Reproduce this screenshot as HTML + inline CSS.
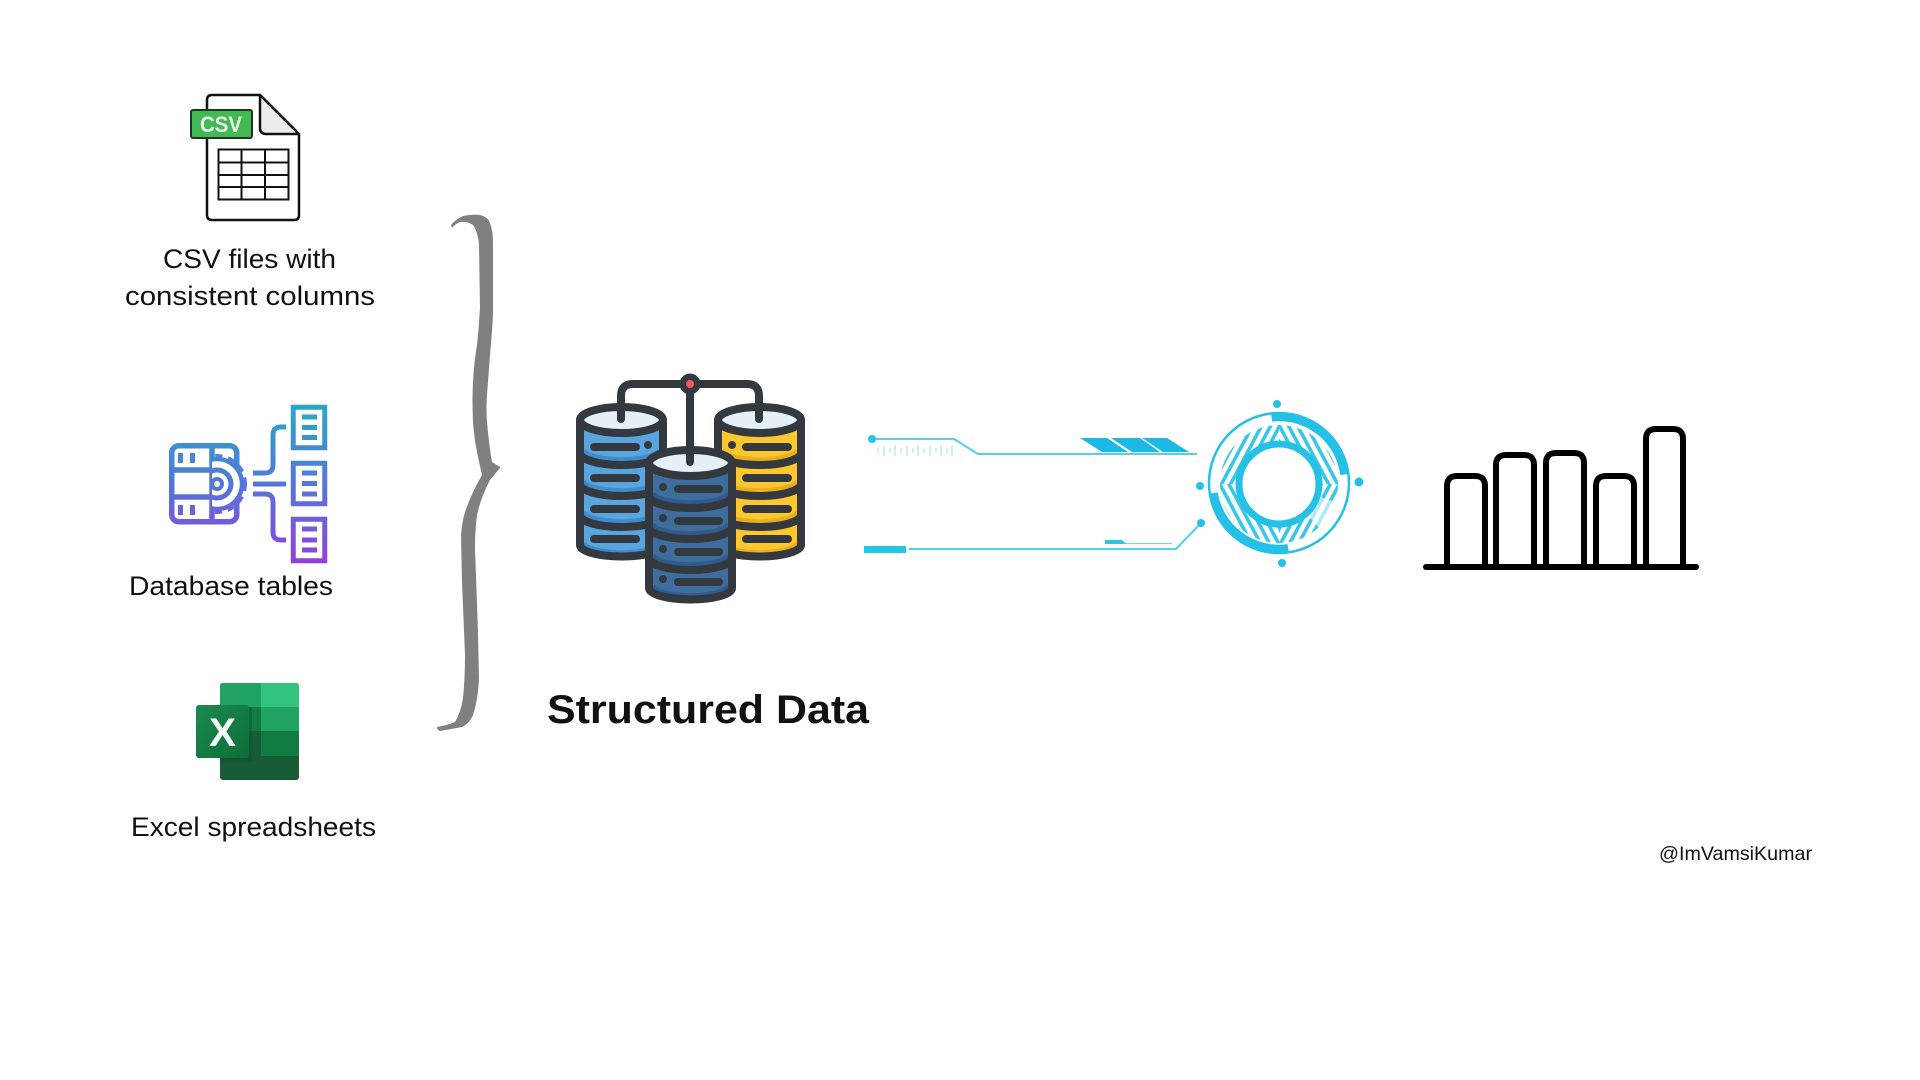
<!DOCTYPE html>
<html lang="en">
<head>
<meta charset="utf-8">
<title>Structured Data</title>
<style>
html,body{margin:0;padding:0;background:#fff;width:1920px;height:1080px;overflow:hidden}
svg{display:block}
text{font-family:"Liberation Sans",sans-serif;fill:#111}
</style>
</head>
<body>
<svg width="1920" height="1080" viewBox="0 0 1920 1080" xmlns="http://www.w3.org/2000/svg">
<defs>
  <linearGradient id="g" gradientUnits="userSpaceOnUse" x1="0" y1="405" x2="0" y2="563">
    <stop offset="0" stop-color="#28a9c8"/><stop offset=".5" stop-color="#5477d8"/><stop offset="1" stop-color="#9140dc"/>
  </linearGradient>
  <linearGradient id="xg" x1="0" y1="0" x2="1" y2="1">
    <stop offset="0" stop-color="#1a8a50"/><stop offset="1" stop-color="#0e6d38"/>
  </linearGradient>
  <pattern id="h1" width="8" height="8" patternUnits="userSpaceOnUse" patternTransform="rotate(28)"><rect width="3.600" height="8" fill="#38c6e8"/></pattern>
  <pattern id="h2" width="8" height="8" patternUnits="userSpaceOnUse" patternTransform="rotate(-28)"><rect width="3.600" height="8" fill="#38c6e8"/></pattern>
  <mask id="ann" maskUnits="userSpaceOnUse" x="1200" y="400" width="160" height="170">
    <circle cx="1279" cy="484" r="59" fill="#fff"/><circle cx="1279" cy="484" r="42" fill="#000"/>
    <path d="M1279 484L1345 505L1335 545Z" fill="#000" opacity=".6"/>
  </mask>
  <clipPath id="gearclip"><rect x="212" y="440" width="40" height="90"/></clipPath>
  <g id="cyl">
    <path d="M4 17V142A41.500 12 0 0 0 87 142V17Z" fill="var(--c)"/>
    <path d="M8 47A38 11 0 0 0 83 47M8 78A38 11 0 0 0 83 78M8 109A38 11 0 0 0 83 109M8 140A38 11 0 0 0 83 140" fill="none" stroke="var(--d)" stroke-width="4"/>
    <ellipse cx="45.500" cy="17" rx="41.500" ry="13" fill="#e4eff8" stroke="#33393f" stroke-width="8"/>
    <path d="M4 17V142A41.500 11.500 0 0 0 87 142V17" fill="none" stroke="#33393f" stroke-width="8"/>
    <path d="M4 50A41.500 12 0 0 0 87 50M4 81A41.500 12 0 0 0 87 81M4 112A41.500 12 0 0 0 87 112" fill="none" stroke="#33393f" stroke-width="8"/>
  </g>
</defs>

<!-- CSV icon -->
<path d="M260 95H212Q207 95 207 100V215Q207 220 212 220H294Q299 220 299 215V134Z" fill="#fff" stroke="#111" stroke-width="2.500" stroke-linejoin="round"/>
<path d="M260 95L299 134H266Q260 134 260 128Z" fill="#ececec" stroke="#111" stroke-width="2.500" stroke-linejoin="round"/>
<rect x="191" y="110" width="61" height="28" rx="2" fill="#43b954" stroke="#1c3a22" stroke-width="2"/>
<text x="221" y="132" text-anchor="middle" font-size="22" font-weight="700" style="fill:#e6f6e8" textLength="42" lengthAdjust="spacingAndGlyphs">CSV</text>
<path d="M218.500 149.500H288.500V199.500H218.500ZM218.500 162.500H288.500M218.500 175H288.500M218.500 187H288.500M241.500 149.500V199.500M265 149.500V199.500" fill="none" stroke="#111" stroke-width="2"/>
<text x="163" y="268" font-size="27" textLength="173" lengthAdjust="spacingAndGlyphs">CSV files with</text>
<text x="125" y="305" font-size="27" textLength="250" lengthAdjust="spacingAndGlyphs">consistent columns</text>

<!-- Database icon -->
<g fill="none" stroke="url(#g)" stroke-width="5.500">
  <rect x="171.750" y="445.750" width="65" height="76" rx="7" fill="#fff"/>
  <path d="M171.500 470H212M171.500 497H212M212 445V522M216 470H236M216 497H236"/>
  <g clip-path="url(#gearclip)">
    <circle cx="217" cy="484" r="25" fill="#fff" stroke-width="4.500"/>
    <circle cx="217" cy="484" r="28" stroke-width="4" stroke-dasharray="7 6"/>
    <circle cx="217" cy="484" r="14" stroke-width="5"/>
  </g>
  <circle cx="217" cy="484" r="5" stroke-width="4"/>
</g>
<g fill="url(#g)">
  <rect x="178" y="453" width="5" height="10"/><rect x="190" y="453" width="5" height="10"/>
  <rect x="178" y="505" width="5" height="10"/><rect x="190" y="505" width="5" height="10"/>
  <rect x="253" y="481.500" width="33" height="5"/>
</g>
<g fill="none" stroke="url(#g)" stroke-width="5">
  <path d="M253 473H265Q273 473 273 465V435Q273 427 281 427H286"/>
  <path d="M253 494H265Q273 494 273 502V532Q273 540 281 540H286"/>
  <rect x="293.250" y="407.250" width="31.500" height="40.500"/>
  <rect x="293.250" y="463.250" width="31.500" height="40.500"/>
  <rect x="293.250" y="519.250" width="31.500" height="41.500"/>
  <path d="M302 417H317M302 427.500H317M302 437.500H317M302 473H317M302 483.500H317M302 494H317M302 529H317M302 540H317M302 550H317"/>
</g>
<text x="129" y="595" font-size="27" textLength="204" lengthAdjust="spacingAndGlyphs">Database tables</text>

<!-- Excel icon -->
<rect x="220" y="683" width="79" height="97" rx="3" fill="#185c37"/>
<path d="M261 683H296Q299 683 299 686V707H261Z" fill="#33c481"/>
<path d="M220 707V686Q220 683 223 683H261V707Z" fill="#21a366"/>
<rect x="261" y="707" width="38" height="24" fill="#21a366"/>
<rect x="220" y="707" width="41" height="24" fill="#107c41"/>
<rect x="261" y="731" width="38" height="25" fill="#107c41"/>
<rect x="220" y="731" width="41" height="25" fill="#185c37"/>
<rect x="220" y="707" width="32" height="55" fill="#0a4a28" opacity=".35"/>
<rect x="196" y="705" width="53" height="53" rx="3" fill="url(#xg)"/>
<text x="222.500" y="746" text-anchor="middle" font-size="40" font-weight="700" style="fill:#f2fbf5" textLength="27" lengthAdjust="spacingAndGlyphs">X</text>
<text x="131" y="836" font-size="27" textLength="245" lengthAdjust="spacingAndGlyphs">Excel spreadsheets</text>

<!-- Brace -->
<path d="M451 225Q456 219 463 216Q472 214 480 215Q488 217 490 223Q493 231 493 242L493 315Q492 335 490 355L487 395Q486 410 487 422Q489 445 492 462L500 467L500 468Q495 474 490 480Q481 497 477 515Q475 530 475 548L478 632L479 678Q478 700 473 715Q469 724 462 727L440 731Q437 730 437 727Q448 725 455 722Q461 712 463 698Q465 678 465 655L462 582L461 535Q462 522 465 512Q472 492 482 475Q479 462 477 452Q474 437 473 422Q472 400 473 382Q474 362 477 345Q479 326 480 308L479 245Q478 232 473 225Q467 221 460 222Q455 224 452 228Z" fill="#808080"/>

<!-- Databases -->
<g style="--c:#5aa5de;--d:#3f8ccd"><use href="#cyl" x="576" y="403"/></g>
<g style="--c:#fdc82f;--d:#eaae1c"><use href="#cyl" x="714" y="403"/></g>
<g fill="none" stroke="#33393f" stroke-width="8" stroke-linecap="round">
  <path d="M594 447H636M594 478H636M594 509H636M594 539H636"/>
  <path d="M746 447H788M746 478H788M746 509H788M746 539H788"/>
</g>
<circle cx="648" cy="445" r="4" fill="#33393f"/><circle cx="732" cy="445" r="4" fill="#33393f"/>
<g style="--c:#3f6e9e;--d:#2f5c8c"><use href="#cyl" x="645" y="446"/></g>
<g fill="none" stroke="#33393f" stroke-width="8" stroke-linecap="round">
  <path d="M678 489H719M678 521H719M678 552H719M678 582H719"/>
  <path d="M621 419V396Q621 384 633 384H747Q759 384 759 396V419"/>
  <path d="M690 384V462"/>
</g>
<g fill="#33393f"><circle cx="663" cy="487" r="4"/><circle cx="663" cy="518" r="4"/><circle cx="663" cy="549" r="4"/><circle cx="663" cy="579" r="4"/><circle cx="690" cy="384" r="10.500"/></g>
<circle cx="690" cy="384" r="4" fill="#ee5a64"/>
<text x="547" y="723" font-size="40" font-weight="700" textLength="322" lengthAdjust="spacingAndGlyphs">Structured Data</text>

<!-- Connector graphics -->
<g fill="none" stroke="#52d2e8">
  <path d="M872 439H954L978 454H1197" stroke-width="2"/>
  <path d="M909 549H1176L1201 523" stroke-width="2"/>
  <path d="M1125 543.500H1172" stroke-width="1.200" stroke="#7dd6e6"/>
  <path d="M878 448V453M884 446V456M890 448V453M895 445V456M901 448V453M907 446V456M913 448V453M918 445V456M924 448V453M930 446V456M936 448V453M941 445V456M947 448V453M952 445V456" stroke="#a6dbe6" stroke-width="1"/>
</g>
<g fill="#1db9e4">
  <path d="M1080 438H1107L1128 452H1102Z"/><path d="M1111 438H1140L1160 452H1132Z"/><path d="M1142 438H1167L1189 452H1163Z"/>
</g>
<circle cx="872" cy="439" r="4" fill="#27c3e6"/>
<rect x="864" y="546" width="42" height="7" fill="#22c6e6"/>
<path d="M1105 540H1122L1126 544H1105Z" fill="#2cc6dc"/>

<!-- Ring -->
<circle cx="1279" cy="483" r="70" fill="none" stroke="#25c0e6" stroke-width="2.500"/>
<path d="M1271.600 417.300A66 66 0 0 1 1344.500 474.500" fill="none" stroke="#25c0e6" stroke-width="8.500"/>
<path d="M1213.700 493A66 66 0 0 0 1288.200 548.300" fill="none" stroke="#25c0e6" stroke-width="8.500"/>
<g mask="url(#ann)">
  <rect x="1210" y="415" width="69" height="69" fill="url(#h1)"/>
  <rect x="1279" y="484" width="69" height="69" fill="url(#h1)"/>
  <rect x="1279" y="415" width="69" height="69" fill="url(#h2)"/>
  <rect x="1210" y="484" width="69" height="69" fill="url(#h2)"/>
</g>
<circle cx="1279" cy="484" r="40" fill="#fff" stroke="#25c0e6" stroke-width="7"/>
<g fill="#25c0e6"><circle cx="1277" cy="404" r="4"/><circle cx="1359" cy="482" r="4.500"/><circle cx="1200" cy="486" r="4"/><circle cx="1282" cy="563" r="4"/><circle cx="1201" cy="523" r="4"/></g>

<!-- Bar chart -->
<g fill="none" stroke="#000" stroke-width="6" stroke-linecap="round" stroke-linejoin="round">
  <path d="M1447 567V486Q1447 476 1457 476H1475Q1485 476 1485 486V567"/>
  <path d="M1496 567V465Q1496 455 1506 455H1524Q1534 455 1534 465V567"/>
  <path d="M1546 567V463Q1546 453 1556 453H1574Q1584 453 1584 463V567"/>
  <path d="M1596 567V486Q1596 476 1606 476H1624Q1634 476 1634 486V567"/>
  <path d="M1646 567V439Q1646 429 1656 429H1673Q1683 429 1683 439V567"/>
  <path d="M1426 567H1696"/>
</g>

<text x="1659" y="860" font-size="19.500" textLength="153" lengthAdjust="spacingAndGlyphs">@ImVamsiKumar</text>
</svg>
</body>
</html>
